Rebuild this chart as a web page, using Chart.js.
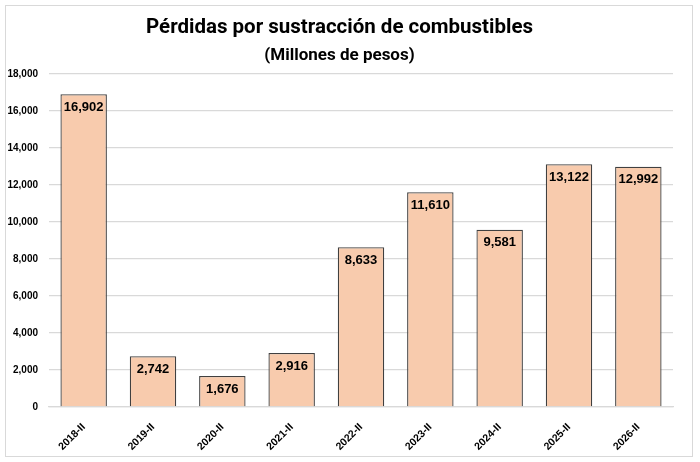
<!DOCTYPE html>
<html>
<head>
<meta charset="utf-8">
<script src="https://cdn.jsdelivr.net/npm/chart.js@4"></script>
<style>
  html, body { margin: 0; padding: 0; background: #fff; }
  #wrap { position: relative; width: 700px; height: 462px; }
  #frame { position: absolute; left: 5px; top: 5px; width: 686px; height: 450px;
           border: 1.5px solid #d9d9d9; pointer-events: none; }
</style>
</head>
<body>
<div id="wrap">
  <canvas id="myChart" width="700" height="462"></canvas>
  <div id="frame"></div>
</div>
<script>
const categories = ["2018-II", "2019-II", "2020-II", "2021-II", "2022-II", "2023-II", "2024-II", "2025-II", "2026-II"];
const perdidas = [16902, 2742, 1676, 2916, 8633, 11610, 9581, 13122, 12992];
const yTicks = [0, 2000, 4000, 6000, 8000, 10000, 12000, 14000, 16000, 18000];

const fmt = v => v.toLocaleString("en-US");

// value labels just inside the top of each bar
const barLabels = {
  id: "barLabels",
  afterDatasetsDraw(chart) {
    const ctx = chart.ctx;
    const meta = chart.getDatasetMeta(0);
    ctx.save();
    ctx.font = "bold 13px 'Liberation Sans', Arial, sans-serif";
    ctx.fillStyle = "#000";
    ctx.textAlign = "center";
    ctx.textBaseline = "middle";
    meta.data.forEach((bar, i) => {
      ctx.fillText(fmt(perdidas[i]), bar.x, bar.y + 13);
    });
    ctx.restore();
  }
};

const ctx = document.getElementById("myChart");

new Chart(ctx, {
  type: "bar",
  data: {
    labels: categories,
    datasets: [{
      data: perdidas,
      backgroundColor: "#F8CBAD",
      borderColor: "#404040",
      borderWidth: 1.3,
      barPercentage: 0.67,
      categoryPercentage: 1
    }]
  },
  options: {
    responsive: false,
    animation: false,
    layout: {padding: {top: 10, left: 6, right: 27, bottom: 0}},
    plugins: {
      legend: {display: false},
      tooltip: {enabled: false},
      title: {
        display: true,
        text: "Pérdidas por sustracción de combustibles",
        color: "#000",
        font: {family: "Roboto, sans-serif", size: 20.5, weight: "bold"},
        padding: {top: 6, bottom: 0}
      },
      subtitle: {
        display: true,
        text: "(Millones de pesos)",
        color: "#000",
        font: {family: "Roboto, sans-serif", size: 17, weight: "bold"},
        padding: {top: 5, bottom: 8}
      }
    },
    scales: {
      x: {
        grid: {display: false},
        border: {color: "#d9d9d9", width: 1.3},
        afterFit: axis => { axis.height = 55; axis.paddingLeft = 0; axis.paddingRight = 0; },
        ticks: {
          color: "#000",
          font: {family: "'Liberation Sans', Arial, sans-serif", size: 10.5, weight: "bold"},
          minRotation: 45,
          maxRotation: 45,
          padding: 6
        }
      },
      y: {
        min: 0,
        max: 18000,
        afterBuildTicks: axis => { axis.ticks = yTicks.map(v => ({value: v})); },
        afterFit: axis => { axis.width = 43; },
        grid: {color: "#d9d9d9", lineWidth: 1.3, drawTicks: false},
        border: {display: false},
        ticks: {
          color: "#000",
          font: {family: "'Liberation Sans', Arial, sans-serif", size: 10, weight: "bold"},
          padding: 11,
          callback: v => fmt(v)
        }
      }
    }
  },
  plugins: [barLabels]
});
</script>
</body>
</html>
